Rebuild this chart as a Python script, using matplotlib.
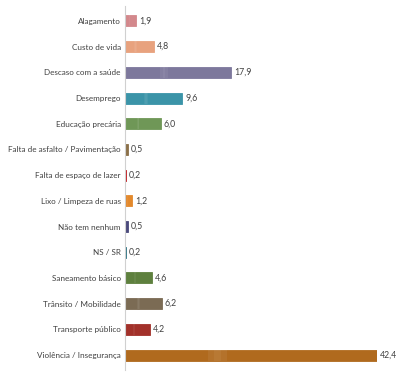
import matplotlib
matplotlib.use("Agg")
import matplotlib.pyplot as plt

# Problemas citados (%)
categorias = ["Alagamento", "Custo de vida", "Descaso com a saúde", "Desemprego",
              "Educação precária", "Falta de asfalto / Pavimentação",
              "Falta de espaço de lazer", "Lixo / Limpeza de ruas", "Não tem nenhum",
              "NS / SR", "Saneamento básico", "Trânsito / Mobilidade",
              "Transporte público", "Violência / Insegurança"]
valores = [1.9, 4.8, 17.9, 9.6, 6.0, 0.5, 0.2, 1.2, 0.5, 0.2, 4.6, 6.2, 4.2, 42.4]
cores = ["#d3888c", "#e8a27e", "#7d789c", "#3b94a8", "#6f9757", "#8b7049",
         "#c0161b", "#e3892c", "#4b4a7c", "#2a7282", "#5e803e", "#7b6b54",
         "#a2312a", "#b06a1e"]

plt.rcParams['font.family'] = ['Lato', 'DejaVu Sans']

fig = plt.figure(figsize=(4.0, 3.76), dpi=100)
ax = fig.add_axes([125 / 400, 6 / 376, 252 / 400, 364 / 376])

pos = list(range(len(categorias)))
bars = ax.barh(pos, valores, height=0.43, color=cores, edgecolor=cores,
               linewidth=0.6)

# brilho suave no meio de cada barra
for b, v in zip(bars, valores):
    for k, a in enumerate([0.06, 0.1, 0.06]):
        ax.barh(b.get_y() + b.get_height() / 2, v * 0.025,
                left=v * (0.33 + 0.025 * k), height=0.43, color="white",
                alpha=a, linewidth=0)

for p, v in zip(pos, valores):
    ax.text(v + 0.5, p, f"{v:.1f}".replace(".", ","), va="center", ha="left",
            fontsize=6.3, color="#404040")

ax.set_yticks(pos)
ax.set_yticklabels(categorias, fontsize=5.9, color="#404040")
ax.tick_params(axis="y", length=0, pad=3)
ax.set_xticks([])
ax.set_xlim(0, 42.4)
ax.set_ylim(13 + 15 / 25.8, -15 / 25.8)

for s in ["top", "right", "bottom"]:
    ax.spines[s].set_visible(False)
ax.spines["left"].set_color("#d0d0d0")
ax.spines["left"].set_linewidth(0.8)

fig.savefig("out.png", dpi=100)
